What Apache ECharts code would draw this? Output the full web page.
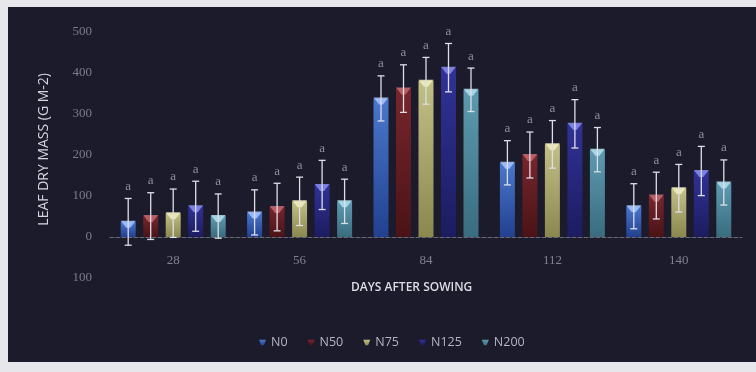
<!DOCTYPE html>
<html>
<head>
<meta charset="utf-8">
<script src="https://cdn.jsdelivr.net/npm/echarts@6/dist/echarts.min.js"></script>
<style>
  html, body { margin: 0; padding: 0; background: #e7e7eb; width: 756px; height: 372px; overflow: hidden; }
  #chart { position: absolute; left: 8px; top: 7px; width: 748px; height: 355px; background: #1c1b2b; }
</style>
</head>
<body>
<div id="chart"></div>
<script>
// days after sowing
const days = ["28", "56", "84", "112", "140"];
const levels = ["N0", "N50", "N75", "N125", "N200"];

// leaf dry mass means (g m-2)
const n0 = [37, 60, 338, 181, 75];
const n50 = [51, 73, 362, 200, 101];
const n75 = [58, 87, 381, 226, 119];
const n125 = [75, 127, 413, 276, 161];
const n200 = [51, 87, 359, 213, 133];

// error bar half-widths
const n0Err = [57, 55, 55, 54, 55];
const n50Err = [57, 58, 58, 56, 57];
const n75Err = [59, 59, 57, 58, 58];
const n125Err = [61, 60, 59, 59, 60];
const n200Err = [54, 54, 53, 54, 55];

// significance letters
const letters = ["a", "a", "a", "a", "a"];

const means = [n0, n50, n75, n125, n200];
const errs = [n0Err, n50Err, n75Err, n125Err, n200Err];

const colors = [
  ["#4a78cc", "#22408f"],
  ["#77262c", "#4a1317"],
  ["#c2c086", "#8a884f"],
  ["#303296", "#1c1c60"],
  ["#5e9bb0", "#396c7f"],
];
const tops = ["#a9c6ff", "#c46a70", "#f1efc0", "#8a8ff0", "#b3e0ee"];

const barWidth = 15;
const pitch = 22.5;

const grad = (c) =>
  new echarts.graphic.LinearGradient(0, 0, 0, 1, [
    { offset: 0, color: c[0] },
    { offset: 1, color: c[1] },
  ]);

const errData = [];
means.forEach((m, s) => {
  m.forEach((v, c) => {
    errData.push([c, s, v, errs[s][c]]);
  });
});

const renderErr = (params, api) => {
  const c = api.value(0);
  const s = api.value(1);
  const v = api.value(2);
  const e = api.value(3);
  const x = api.coord([c, v])[0] + (s - 2) * pitch;
  const yMean = api.coord([c, v])[1];
  const yTop = api.coord([c, v + e])[1];
  const yBot = api.coord([c, v - e])[1];
  const line = { stroke: "#dedee8", lineWidth: 1.3 };
  return {
    type: "group",
    children: [
      {
        type: "polygon",
        shape: {
          points: [
            [x - barWidth / 2, yMean - 1],
            [x + barWidth / 2, yMean - 1],
            [x + 2, yMean + 6],
            [x - 2, yMean + 6],
          ],
        },
        style: { fill: tops[s], opacity: 0.85 },
      },
      { type: "line", shape: { x1: x, y1: yTop, x2: x, y2: yBot }, style: line },
      { type: "line", shape: { x1: x - 3.5, y1: yTop, x2: x + 3.5, y2: yTop }, style: line },
      { type: "line", shape: { x1: x - 3.5, y1: yBot, x2: x + 3.5, y2: yBot }, style: line },
      {
        type: "text",
        style: {
          text: letters[s],
          x: x,
          y: yTop - 12,
          fill: "#8e8e9e",
          font: "13px 'Liberation Serif', serif",
          textAlign: "center",
          textVerticalAlign: "middle",
        },
      },
    ],
  };
};

const chart = echarts.init(document.getElementById("chart"));
chart.setOption({
  animation: false,
  grid: { left: 102, right: 14, top: 25, bottom: 84 },
  legend: {
    left: 246,
    top: 324,
    itemWidth: 7,
    itemHeight: 6,
    itemGap: 20,
    icon: "path://M0,0 L10,0 L7,8 L3,8 Z",
    textStyle: { color: "#b4b4c4", fontSize: 12.5, fontFamily: "'Open Sans', sans-serif" },
    data: levels,
  },
  xAxis: {
    type: "category",
    data: days,
    axisLine: { onZero: true, lineStyle: { color: "#8a8a96", type: "dashed", width: 1, opacity: 0.7 } },
    axisTick: { show: false },
    axisLabel: { color: "#80808f", fontSize: 13, fontFamily: "'Liberation Serif', serif", margin: -24 },
  },
  yAxis: {
    type: "value",
    min: -100,
    max: 500,
    interval: 100,
    axisLine: { show: false },
    axisTick: { show: false },
    splitLine: { show: false },
    axisLabel: {
      color: "#7c7c8c",
      fontSize: 13,
      fontFamily: "'Liberation Serif', serif",
      margin: 18,
      formatter: (value) => Math.abs(+value),
    },
  },
  graphic: [
    {
      type: "text",
      left: 29,
      top: 66,
      rotation: Math.PI / 2,
      style: {
        text: "LEAF DRY MASS (G M-2)",
        fill: "#d6d6e0",
        font: "14px 'Open Sans', sans-serif",
      },
    },
    {
      type: "text",
      left: 343,
      top: 275,
      style: {
        text: "DAYS AFTER SOWING",
        fill: "#dcdce4",
        font: "600 12px 'Open Sans', sans-serif",
      },
    },
  ],
  series: [
    ...levels.map((name, s) => ({
      name: name,
      type: "bar",
      data: means[s],
      barWidth: barWidth,
      barGap: "50%",
      itemStyle: { color: grad(colors[s]) },
    })),
    {
      type: "custom",
      renderItem: renderErr,
      data: errData,
      encode: { x: 0, y: 2 },
      z: 5,
    },
  ],
});
</script>
</body>
</html>
